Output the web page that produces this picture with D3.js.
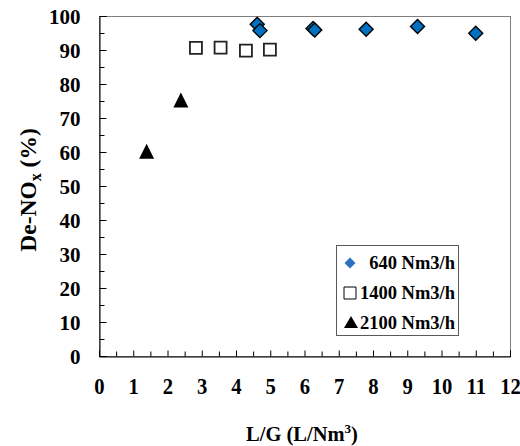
<!DOCTYPE html>
<html>
<head>
<meta charset="utf-8">
<script src="https://cdn.jsdelivr.net/npm/d3@7"></script>
<style>
  html, body { margin: 0; padding: 0; background: #fff; }
  svg { display: block; }
  text { font-family: "Liberation Serif", "Times New Roman", serif; font-weight: bold; fill: #000; }
</style>
</head>
<body>
<svg id="chart" width="520" height="446"></svg>
<script>
// L/G ratio (L/Nm3) and NOx removal (%) for each gas flow rate
const series640X  = [4.62, 4.70, 6.25, 6.30, 7.80, 9.30, 11.0];
const series640Y  = [97.6, 95.7, 96.3, 95.9, 96.1, 96.9, 94.9];
const series1400X = [2.83, 3.55, 4.29, 4.99];
const series1400Y = [90.6, 90.7, 89.8, 90.1];
const series2100X = [1.39, 2.39];
const series2100Y = [60.2, 75.3];

const seriesNames = ["640 Nm3/h", "1400 Nm3/h", "2100 Nm3/h"];
const xTicks = d3.range(0, 13, 1);
const xMinorTicks = d3.range(0.5, 12, 1);
const yTicks = d3.range(0, 101, 10);
const yMinorTicks = d3.range(5, 100, 10);

const svg = d3.select("#chart");
const plot = { left: 99, right: 510, top: 16, bottom: 356 };

const x = d3.scaleLinear().domain([0, 12]).range([plot.left, plot.right]);
const y = d3.scaleLinear().domain([0, 100]).range([plot.bottom, plot.top]);

// plot area frame
svg.append("rect")
  .attr("x", plot.left + 0.5).attr("y", plot.top + 0.5)
  .attr("width", plot.right - plot.left).attr("height", plot.bottom - plot.top)
  .attr("fill", "none").attr("stroke", "#7f7f7f").attr("stroke-width", 1);

// y axis, ticks pointing inward
const yAxis = svg.append("g")
  .attr("transform", `translate(${plot.left + 0.5},0)`)
  .call(d3.axisLeft(y).tickValues(yTicks).tickSize(-7).tickPadding(19).tickFormat(d3.format("d")));
svg.append("g")
  .attr("transform", `translate(${plot.left + 0.5},0)`)
  .call(d3.axisLeft(y).tickValues(yMinorTicks).tickSize(-5).tickFormat(""))
  .call(g => g.select(".domain").remove());
yAxis.selectAll("text").style("font-size", "21px").attr("dy", "0.34em");

// x axis, ticks pointing inward
const xAxis = svg.append("g")
  .attr("transform", `translate(0,${plot.bottom + 0.5})`)
  .call(d3.axisBottom(x).tickValues(xTicks).tickSize(-6).tickFormat(d3.format("d")));
svg.append("g")
  .attr("transform", `translate(0,${plot.bottom + 0.5})`)
  .call(d3.axisBottom(x).tickValues(xMinorTicks).tickSize(-5).tickFormat(""))
  .call(g => g.select(".domain").remove());
xAxis.selectAll("text")
  .style("font-size", "24px")
  .attr("y", 38).attr("dy", 0)
  .attr("transform", "scale(0.86,1)");

svg.selectAll(".domain").attr("stroke", "#000");
svg.selectAll(".tick line").attr("stroke", "#000");

// axis titles
const yTitle = svg.append("text")
  .attr("transform", `translate(36,190) rotate(-90)`)
  .attr("text-anchor", "middle")
  .style("font-size", "23.5px");
yTitle.append("tspan").text("De-NO");
yTitle.append("tspan").text("x").style("font-size", "16px").attr("dy", 5);
yTitle.append("tspan").text(" (%)").attr("dy", -5);

const xTitle = svg.append("text")
  .attr("x", 302).attr("y", 441)
  .attr("text-anchor", "middle")
  .style("font-size", "20.5px");
xTitle.append("tspan").text("L/G (L/Nm");
xTitle.append("tspan").text("3").style("font-size", "13px").attr("dy", -8);
xTitle.append("tspan").text(")").attr("dy", 8);

// marker shapes centred on their bounding boxes
const diamond = r => `M0,${-r}L${r},0L0,${r}L${-r},0Z`;
const square = s => `M${-s / 2},${-s / 2}h${s}v${s}h${-s}Z`;
const triangle = (w, h) => `M0,${-h / 2}L${w / 2},${h / 2}L${-w / 2},${h / 2}Z`;

const pts = (xs, ys) => xs.map((v, i) => ({ x: v, y: ys[i] }));

svg.append("g").selectAll("path")
  .data(pts(series2100X, series2100Y)).join("path")
  .attr("d", triangle(15, 15))
  .attr("transform", d => `translate(${x(d.x)},${y(d.y)})`)
  .attr("fill", "#000");

svg.append("g").selectAll("path")
  .data(pts(series1400X, series1400Y)).join("path")
  .attr("d", square(12))
  .attr("transform", d => `translate(${x(d.x)},${y(d.y)})`)
  .attr("fill", "#fff").attr("stroke", "#222").attr("stroke-width", 1.8);

svg.append("g").selectAll("path")
  .data(pts(series640X, series640Y)).join("path")
  .attr("d", diamond(7))
  .attr("transform", d => `translate(${x(d.x)},${y(d.y)})`)
  .attr("fill", "#0070c0").attr("stroke", "#000").attr("stroke-width", 1.4);

// legend
const legend = svg.append("g");
legend.append("rect")
  .attr("x", 336.5).attr("y", 245.5).attr("width", 122).attr("height", 90)
  .attr("fill", "#fff").attr("stroke", "#595959").attr("stroke-width", 1);

const rowY = [263, 293, 323];
legend.append("path").attr("d", diamond(5.5))
  .attr("transform", `translate(350,${rowY[0]})`).attr("fill", "#2a72c0");
legend.append("path").attr("d", square(12))
  .attr("transform", `translate(350,${rowY[1]})`).attr("fill", "#fff").attr("stroke", "#000").attr("stroke-width", 1);
legend.append("path").attr("d", triangle(14, 12))
  .attr("transform", `translate(351,${rowY[2] - 1})`).attr("fill", "#000");

legend.selectAll("text.item")
  .data(seriesNames).join("text")
  .attr("class", "item")
  .attr("x", 455).attr("y", (d, i) => rowY[i] + 6)
  .attr("text-anchor", "end")
  .style("font-size", "18.5px")
  .text(d => d);
</script>
</body>
</html>
